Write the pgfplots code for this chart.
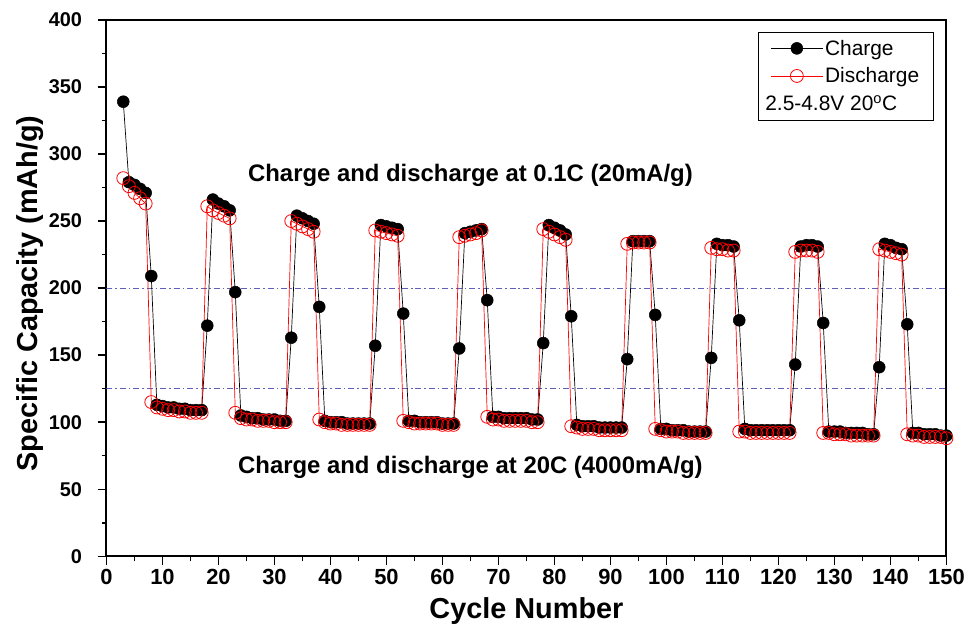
\documentclass[border=0pt]{standalone}
\usepackage{fontspec}
\setmainfont{Liberation Sans}
\usepackage{pgfplots}
\usepackage{pgfplotstable}
\pgfplotsset{compat=1.18}
\definecolor{refblue}{RGB}{95,95,190}

\pgfplotstableread{
cyc ch dis
3 339 282
4 279 276
5 277 271
6 274 267
7 271 263
8 209 115
9 113 111
10 112 110
11 111 109
12 111 109
13 110 108
14 110 108
15 109 107
16 109 107
17 109 107
18 172 261
19 266 258
20 263 256
21 261 254
22 258 252
23 197 107
24 105 103
25 104 102
26 103 102
27 103 101
28 102 101
29 102 101
30 102 100
31 101 100
32 101 100
33 163 250
34 254 248
35 252 246
36 250 244
37 248 242
38 186 102
39 101 100
40 100 99
41 100 99
42 100 98
43 99 98
44 99 98
45 99 98
46 99 98
47 99 98
48 157 243
49 247 242
50 246 241
51 245 240
52 244 239
53 181 101
54 101 100
55 101 99
56 100 99
57 100 99
58 100 99
59 100 99
60 99 98
61 99 98
62 99 98
63 155 238
64 241 239
65 242 240
66 243 241
67 244 243
68 191 104
69 104 102
70 104 102
71 103 101
72 103 101
73 103 101
74 103 101
75 103 101
76 102 100
77 102 100
78 159 244
79 247 242
80 245 240
81 243 238
82 240 236
83 179 97
84 98 96
85 97 95
86 97 95
87 97 95
88 96 94
89 96 94
90 96 94
91 96 94
92 96 94
93 147 233
94 235 234
95 235 234
96 235 234
97 235 234
98 180 95
99 95 94
100 95 93
101 94 93
102 94 93
103 94 92
104 93 92
105 93 92
106 93 92
107 93 92
108 148 230
109 233 229
110 232 229
111 232 228
112 231 228
113 176 93
114 95 93
115 94 92
116 94 92
117 94 92
118 94 92
119 94 92
120 94 92
121 94 92
122 94 92
123 143 227
124 231 228
125 232 228
126 232 228
127 231 227
128 174 92
129 93 92
130 93 91
131 93 91
132 92 91
133 92 90
134 92 90
135 92 90
136 91 90
137 91 90
138 141 229
139 233 228
140 232 227
141 230 226
142 229 225
143 173 91
144 92 90
145 92 90
146 91 89
147 91 89
148 91 89
149 90 89
150 90 88
}\cycdata

\begin{document}
\begin{tikzpicture}
\begin{axis}[
    name=ax,
    scale only axis, width=844pt, height=539pt,
    xmin=0, xmax=150, ymin=0, ymax=400,
    xtick distance=10, ytick distance=50,
    minor x tick num=1, minor y tick num=1,
    tick align=outside, tick pos=left,
    major tick length=9pt, minor tick length=5pt,
    axis line style={line width=2pt},
    every tick/.style={black, line width=1.5pt},
    xticklabel style={font=\fontsize{22}{26}\selectfont\bfseries},
    yticklabel style={font=\fontsize{20}{24}\selectfont\bfseries, xshift=-12pt},
    /pgf/number format/assume math mode=true,
    xlabel={Cycle Number}, ylabel={Specific Capacity (mAh/g)},
    label style={font=\fontsize{29}{34}\selectfont\bfseries},
    xlabel style={at={(axis description cs:0.5,-0.102)}, anchor=center},
    ylabel style={at={(axis description cs:-0.091,0.49)}, anchor=center},
    legend style={at={(0.9846,0.978)}, anchor=north east, draw=black,
        line width=0.8pt, font=\fontsize{21}{25}\selectfont,
        inner xsep=12pt, inner ysep=6pt, row sep=7pt},
    legend cell align=left,
    legend image code/.code={\draw[mark repeat=2,mark phase=2]
        plot coordinates {(0pt,0pt) (26pt,0pt) (52pt,0pt)};},
]
\addplot[refblue, line width=0.8pt, dash pattern=on 6pt off 3pt on 1.5pt off 3pt, forget plot]
    coordinates {(0,200) (150,200)};
\addplot[refblue, line width=0.8pt, dash pattern=on 6pt off 3pt on 1.5pt off 3pt, forget plot]
    coordinates {(0,125) (150,125)};

\addplot[black, line width=0.7pt, mark=*, mark size=6pt,
    mark options={fill=black, line width=0.5pt}]
    table[x=cyc, y=ch] {\cycdata};
\addlegendentry{Charge}
\addplot[red, line width=0.7pt, mark=o, mark size=6.5pt,
    mark options={fill=white, line width=0.8pt}]
    table[x=cyc, y=dis] {\cycdata};
\addlegendentry{Discharge}
\addlegendimage{empty legend}
\addlegendentry{\hspace*{-60pt}2.5-4.8V 20\textsuperscript{o}C}

\node[font=\fontsize{24}{28}\selectfont\bfseries] at (axis cs:65,284)
    {Charge and discharge at 0.1C (20mA/g)};
\node[font=\fontsize{24}{28}\selectfont\bfseries] at (axis cs:65,66)
    {Charge and discharge at 20C (4000mA/g)};
\end{axis}
\path[use as bounding box] ([xshift=-107pt,yshift=-73pt]ax.south west)
    rectangle ([xshift=17pt,yshift=20pt]ax.north east);
\end{tikzpicture}
\end{document}
